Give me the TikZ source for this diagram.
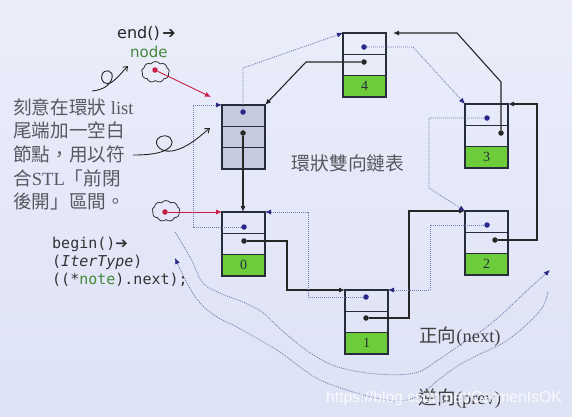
\documentclass[tikz,border=0pt]{standalone}
\usepackage{fontspec}
\setmainfont{Liberation Serif}
\setmonofont{DejaVu Sans Mono}
\newfontfamily\cjk{Noto Sans CJK TC}
\newfontfamily\dejavu{DejaVu Sans}
\newfontfamily\wmfont{Liberation Sans}
\usetikzlibrary{arrows.meta,shapes.symbols,calc}
\definecolor{bgtop}{RGB}{235,237,250}
\definecolor{bgbot}{RGB}{221,226,245}
\definecolor{boxline}{RGB}{40,45,60}
\definecolor{nodegreen}{RGB}{108,204,58}
\definecolor{emptygray}{RGB}{198,202,222}
\definecolor{dotblue}{RGB}{40,40,140}
\definecolor{prevline}{RGB}{115,125,175}
\definecolor{tipblue}{RGB}{40,40,130}
\definecolor{redline}{RGB}{200,30,70}
\definecolor{txtgray}{RGB}{88,88,95}
\definecolor{labelgreen}{RGB}{70,135,60}
\begin{document}
\begin{tikzpicture}[x=1pt,y=-1pt,
 cell/.style={draw=boxline,line width=1.2pt,minimum width=43pt,minimum height=21.33pt,inner sep=0pt,outer sep=0pt},
 datacell/.style={cell,fill=nodegreen,font=\fontsize{14}{16}\selectfont,text=boxline},
 graycell/.style={cell,fill=emptygray},
 pdot/.style={circle,fill=dotblue,inner sep=0pt,minimum size=5.5pt},
 ndot/.style={circle,fill=black!85,inner sep=0pt,minimum size=5.5pt},
 rdot/.style={circle,fill=redline,inner sep=0pt,minimum size=5.5pt},
 nextarr/.style={draw=black!85,line width=1.1pt,-{Latex[length=6pt,width=5pt]}},
 prevarr/.style={draw=prevline,line width=0.8pt,dash pattern=on 1pt off 1pt,-{Latex[length=6pt,width=5pt,color=tipblue]}},
 redarr/.style={draw=redline,line width=0.9pt,-{Latex[length=6pt,width=5pt]}},
 squig/.style={draw=black!85,line width=0.9pt,-{Straight Barb[length=4pt,width=6pt]}},
 wave/.style={draw=prevline,line width=0.8pt,dash pattern=on 1pt off 1pt,-{Latex[length=6pt,width=5pt,color=tipblue]}},
 cloudy/.style={cloud,cloud puffs=9,cloud puff arc=110,aspect=1.4,draw=black!80,line width=0.8pt,minimum width=28pt,minimum height=21pt,inner sep=0pt},
 lefttext/.style={anchor=base west,inner sep=0pt,text=txtgray,font=\fontsize{18.6}{22}\selectfont},
 monotext/.style={anchor=base west,inner sep=0pt,text=black!80,font=\ttfamily\fontsize{15}{18}\selectfont}
]
\useasboundingbox (0,0) rectangle (572,416);
\shade[top color=bgtop,bottom color=bgbot] (0,0) rectangle (572,416);

% list nodes
\node[graycell,anchor=north west] (PE) at (222,105) {};
\node[graycell,anchor=north] (NE) at (PE.south) {};
\node[graycell,anchor=north] (DE) at (NE.south) {};

\node[cell,anchor=north west] (P0) at (222,212) {};
\node[cell,anchor=north] (N0) at (P0.south) {};
\node[datacell,anchor=north] (D0) at (N0.south) {0};

\node[cell,anchor=north west] (P1) at (345,290) {};
\node[cell,anchor=north] (N1) at (P1.south) {};
\node[datacell,anchor=north] (D1) at (N1.south) {1};

\node[cell,anchor=north west] (P2) at (465,211) {};
\node[cell,anchor=north] (N2) at (P2.south) {};
\node[datacell,anchor=north] (D2) at (N2.south) {2};

\node[cell,anchor=north west] (P3) at (465,104) {};
\node[cell,anchor=north] (N3) at (P3.south) {};
\node[datacell,anchor=north] (D3) at (N3.south) {3};

\node[cell,anchor=north west] (P4) at (343,33) {};
\node[cell,anchor=north] (N4) at (P4.south) {};
\node[datacell,anchor=north] (D4) at (N4.south) {4};

% dots
\node[pdot] (pE) at (243,112) {};
\node[ndot] (nE) at (243,133) {};
\node[pdot] (p0) at (244,227) {};
\node[ndot] (n0) at (244,241) {};
\node[pdot] (p1) at (366,297) {};
\node[ndot] (n1) at (366,318) {};
\node[pdot] (p2) at (487,225) {};
\node[ndot] (n2) at (495,240) {};
\node[pdot] (p3) at (487,118) {};
\node[ndot] (n3) at (501,133) {};
\node[pdot] (p4) at (364,47) {};
\node[ndot] (n4) at (364,62) {};

% next links
\draw[nextarr] (nE) -- (nE |- P0.north);
\draw[nextarr] (n0) -| (287,290) -- (P1.north west);
\draw[nextarr] (n1) -| (409,211) -- (P2.north west);
\draw[nextarr] (n2) -| (537,104) -- (P3.north east);
\draw[nextarr] (n3) -- (501,82) -- (457,33) -- ($(P4.north east)+(7,0)$);
\draw[nextarr] (n4) -- (306,62) -- (PE.north east);

% prev links
\draw[prevarr] (pE) -- (243,68) -- (P4.north west);
\draw[prevarr] (p4) -- (413,47) -- (P3.north west);
\draw[prevarr] (p3) -| (429,188) -- (P2.north west);
\draw[prevarr] (p2) -| (430,290) -- (P1.north east);
\draw[prevarr] (p1) -| (308,212) -- (P0.north east);
\draw[prevarr] (p0) -| (193,105) -- (PE.north west);

% clouds and red pointers
\node[cloudy] (c1) at (155.5,72) {};
\node[rdot] (r1) at (155,70) {};
\coordinate (r1tip) at (211,97);
\draw[redarr] (r1) -- (r1tip);
\node[cloudy] (c2) at (166,211) {};
\node[rdot] (r2) at (165,212) {};
\draw[redarr] (r2) -- (P0.north west);

% squiggle arrows
\coordinate (s1a) at (92,91);
\coordinate (s1b) at (128,66);
\draw[squig] (s1a) .. controls (102,90) and (110,86) .. (112,78)
  .. controls (114,70) and (104,68) .. (102,75)
  .. controls (100,82) and (106,86) .. (112,82)
  .. controls (118,78) and (122,72) .. (s1b);
\coordinate (s2a) at (133,155);
\coordinate (s2b) at (210,128);
\draw[squig] (s2a) .. controls (147,155) and (163,154) .. (170,147)
  .. controls (176,140) and (168,133) .. (160,137)
  .. controls (152,141) and (158,153) .. (172,151)
  .. controls (188,148) and (200,136) .. (s2b);

% wavy direction arrows
\draw[wave] plot[smooth,tension=0.6] coordinates {(175,232) (190,257) (203,283) (222,294) (243,302) (262,312) (276,325) (292,339) (312,354) (338,367) (377,374) (415,373) (438,360) (460,345) (480,332) (500,316) (517,300) (532,286) (550,270)};
\draw[wave] plot[smooth,tension=0.6] coordinates {(548,292) (542,308) (524,327) (503,343) (478,355) (456,367) (437,381) (420,395) (400,401) (372,397) (347,390) (320,380) (300,367) (280,352) (260,340) (237,327) (217,317) (200,303) (187,283) (175,258)};

% texts
\node[lefttext] (l1) at (13,114) {{\cjk 刻意在環狀} list};
\node[lefttext] (l2) at (13,137.7) {\cjk 尾端加一空白};
\node[lefttext] (l3) at (13,161.4) {\cjk 節點，用以符};
\node[lefttext] (l4) at (13,185.1) {{\cjk 合}STL{\cjk 「前閉}};
\node[lefttext] (l5) at (13,208.8) {\cjk 後開」區間。};

\node[anchor=base,inner sep=0pt,text=txtgray,font=\cjk\fontsize{18.8}{22}\selectfont] (title) at (348,170) {環狀雙向鏈表};

\node[anchor=base west,inner sep=0pt,text=black!85,font=\dejavu\fontsize{16}{18}\selectfont] (endlbl) at (117,38) {end()\,➔};
\node[anchor=base west,inner sep=0pt,text=labelgreen,font=\dejavu\fontsize{15}{18}\selectfont] (nodelbl) at (130,57) {node};

\node[monotext] (b1) at (52,248) {begin(){\dejavu ➔}};
\node[monotext] (b2) at (52,266) {(\textit{IterType})};
\node[monotext] (b3) at (52,284) {((*\textcolor{labelgreen}{note}).next);};

\node[anchor=base,inner sep=0pt,text=black!75,font=\fontsize{18.5}{22}\selectfont] (fwd) at (460,342.5) {{\cjk 正向}(next)};
\node[anchor=base,inner sep=0pt,text=black!75,font=\fontsize{18.5}{22}\selectfont] (bwd) at (460,404) {{\cjk 逆向}(prev)};

\node[anchor=base,inner sep=0pt,text=white,opacity=0.85,font=\wmfont\fontsize{15.7}{18}\selectfont] (wm) at (444,402.7) {https://blog.csdn.net/CarmenIsOK};
\end{tikzpicture}
\end{document}
